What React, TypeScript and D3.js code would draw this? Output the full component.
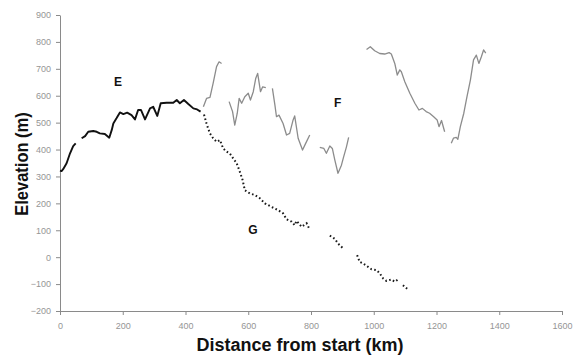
import { useEffect, useRef } from "react";
import * as d3 from "d3";

type Pt = [number, number];

// Route E (solid black), split where the trace breaks
const routeE: Pt[][] = [
  [[0, 322], [5, 320], [10, 327], [21, 349], [32, 386], [42, 413], [50, 423]],
  [
    [69, 442], [80, 450], [90, 466], [106, 469], [117, 466], [127, 460], [143, 458],
    [157, 444], [165, 473], [170, 497], [180, 516], [191, 538], [202, 532], [214, 537],
    [228, 528], [239, 512], [249, 547], [258, 547], [271, 512], [287, 553], [297, 559],
    [310, 525], [321, 572], [340, 574], [361, 574], [372, 584], [382, 572], [395, 584],
    [409, 569], [425, 553], [437, 549], [448, 541],
  ],
];

// Route F (grey), several pieces
const routeF: Pt[][] = [
  [[457, 559], [467, 590], [478, 594], [488, 646], [499, 708], [507, 726], [515, 720]],
  [
    [539, 578], [550, 541], [557, 491], [565, 535], [571, 590], [579, 572], [589, 596],
    [600, 609], [607, 584], [616, 615], [624, 665], [630, 683], [635, 646], [639, 615],
    [646, 633], [656, 630],
  ],
  [
    [677, 627], [685, 565], [690, 522], [698, 528], [711, 497], [722, 454], [732, 460],
    [743, 510], [748, 525], [759, 442], [773, 398], [783, 423], [796, 454],
  ],
  [
    [828, 408], [841, 404], [849, 386], [860, 413], [868, 404], [876, 361], [886, 312],
    [897, 342], [904, 373], [913, 410], [920, 445],
  ],
  [
    [977, 772], [989, 782], [1003, 767], [1019, 757], [1035, 755], [1049, 760], [1056, 755],
    [1067, 720], [1075, 677], [1083, 696], [1088, 689], [1099, 652], [1115, 609], [1131, 572],
    [1144, 547], [1155, 553], [1167, 541], [1178, 535], [1191, 522], [1202, 510], [1208, 485],
    [1216, 508], [1226, 466],
  ],
  [
    [1247, 423], [1254, 442], [1263, 445], [1268, 438], [1276, 485], [1287, 535], [1297, 596],
    [1308, 658], [1318, 733], [1327, 751], [1335, 720], [1343, 745], [1350, 770], [1357, 758],
  ],
];

// Route G (dotted black)
const routeG: Pt[][] = [
  [
    [459, 530], [467, 497], [472, 479], [478, 460], [488, 442], [499, 429], [510, 435],
    [520, 404], [531, 392], [541, 386], [552, 367], [563, 349], [573, 318], [582, 287],
    [589, 249], [605, 237], [621, 231], [637, 219], [653, 200], [674, 187], [695, 175],
    [711, 163], [722, 141], [738, 132], [748, 119], [754, 135], [770, 113], [786, 126],
    [794, 107],
  ],
  [[860, 80], [876, 68], [886, 51], [902, 33]],
  [
    [947, 8], [955, -17], [966, -23], [982, -36], [993, -45], [1009, -48], [1019, -60],
    [1030, -79], [1040, -88], [1056, -83], [1067, -91], [1077, -83],
  ],
  [[1093, -104], [1109, -120]],
];

const xTicks = [0, 200, 400, 600, 800, 1000, 1200, 1400, 1600];
const yTicks = [-200, -100, 0, 100, 200, 300, 400, 500, 600, 700, 800, 900];

const routeLabels: { name: string; km: number; elev: number }[] = [
  { name: "E", km: 185, elev: 650 },
  { name: "F", km: 885, elev: 575 },
  { name: "G", km: 615, elev: 100 },
];

const FONT = "Arial, 'Liberation Sans', sans-serif";

export default function App() {
  const svgRef = useRef<SVGSVGElement>(null);

  useEffect(() => {
    if (!svgRef.current) return;
    const svg = d3.select(svgRef.current);
    svg.selectAll("*").remove();

    const W = 573;
    const H = 357;
    const margin = { top: 15, right: 11, bottom: 46, left: 60 };

    const x = d3.scaleLinear().domain([0, 1600]).range([margin.left, W - margin.right]);
    const y = d3.scaleLinear().domain([-200, 900]).range([H - margin.bottom, margin.top]);

    svg.append("rect").attr("width", W).attr("height", H).attr("fill", "#fff");

    const axisColor = "#8a8a8a";
    const labelColor = "#959595";
    const fmt = d3.format("d");

    // Y axis
    svg
      .append("g")
      .attr("transform", `translate(${margin.left},0)`)
      .call(
        d3.axisLeft(y).tickValues(yTicks).tickFormat(fmt).tickSize(4).tickPadding(5).tickSizeOuter(0)
      )
      .call((g) => g.select(".domain").attr("stroke", axisColor))
      .call((g) => g.selectAll(".tick line").attr("stroke", axisColor))
      .selectAll("text")
      .attr("fill", labelColor)
      .attr("font-family", FONT)
      .attr("font-size", 9);

    // X axis
    svg
      .append("g")
      .attr("transform", `translate(0,${H - margin.bottom})`)
      .call(
        d3.axisBottom(x).tickValues(xTicks).tickFormat(fmt).tickSize(4).tickPadding(8).tickSizeOuter(0)
      )
      .call((g) => g.select(".domain").attr("stroke", axisColor))
      .call((g) => g.selectAll(".tick line").attr("stroke", axisColor))
      .selectAll("text")
      .attr("fill", labelColor)
      .attr("font-family", FONT)
      .attr("font-size", 9);

    const line = d3
      .line<Pt>()
      .x((d) => x(d[0]))
      .y((d) => y(d[1]));

    // G - dotted
    svg
      .append("g")
      .selectAll("path")
      .data(routeG)
      .join("path")
      .attr("d", line)
      .attr("fill", "none")
      .attr("stroke", "#1a1a1a")
      .attr("stroke-width", 2)
      .attr("stroke-dasharray", "1.6,2.4");

    // F - grey
    svg
      .append("g")
      .selectAll("path")
      .data(routeF)
      .join("path")
      .attr("d", line)
      .attr("fill", "none")
      .attr("stroke", "#8c8c8c")
      .attr("stroke-width", 1.3)
      .attr("stroke-linejoin", "round");

    // E - black
    svg
      .append("g")
      .selectAll("path")
      .data(routeE)
      .join("path")
      .attr("d", line)
      .attr("fill", "none")
      .attr("stroke", "#111")
      .attr("stroke-width", 1.9)
      .attr("stroke-linejoin", "round");

    // route letters
    svg
      .append("g")
      .selectAll("text")
      .data(routeLabels)
      .join("text")
      .attr("x", (d) => x(d.km))
      .attr("y", (d) => y(d.elev))
      .attr("text-anchor", "middle")
      .attr("dy", "0.35em")
      .attr("font-family", FONT)
      .attr("font-weight", "bold")
      .attr("font-size", 12)
      .attr("fill", "#111")
      .text((d) => d.name);

    // axis titles
    svg
      .append("text")
      .attr("x", 300)
      .attr("y", 351)
      .attr("text-anchor", "middle")
      .attr("font-family", FONT)
      .attr("font-weight", "bold")
      .attr("font-size", 18)
      .attr("fill", "#111")
      .text("Distance from start (km)");

    svg
      .append("text")
      .attr("transform", `translate(28,164) rotate(-90) scale(1,1.15)`)
      .attr("text-anchor", "middle")
      .attr("font-family", FONT)
      .attr("font-weight", "bold")
      .attr("font-size", 16.5)
      .attr("fill", "#111")
      .text("Elevation (m)");
  }, []);

  return (
    <svg
      ref={svgRef}
      width={573}
      height={357}
      style={{ position: "absolute", left: 0, top: 0, display: "block" }}
    />
  );
}
